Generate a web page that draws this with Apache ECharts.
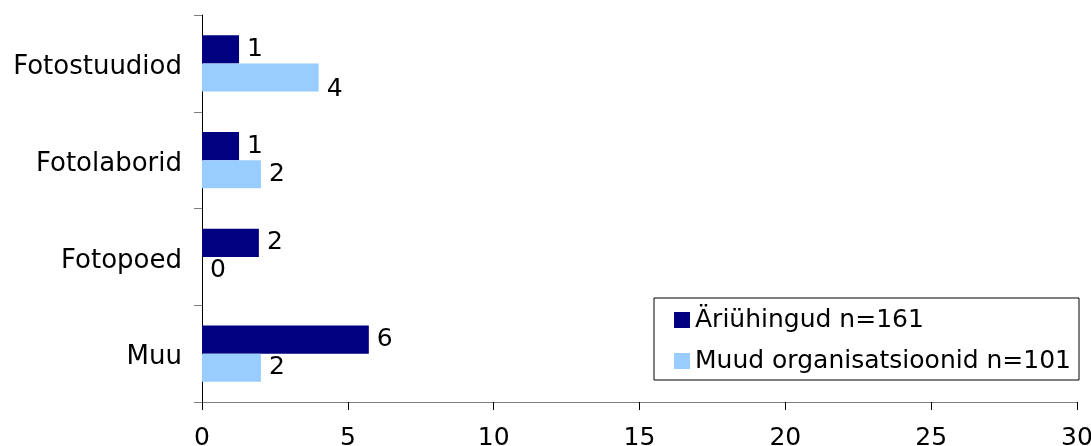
<!DOCTYPE html>
<html>
<head>
<meta charset="utf-8">
<script src="https://cdn.jsdelivr.net/npm/echarts@6/dist/echarts.min.js"></script>
<style>
  html, body { margin: 0; padding: 0; background: #fff; }
  #chart { width: 1091px; height: 446px; }
</style>
</head>
<body>
<div id="chart"></div>
<script>
// kategooriad ülevalt alla
var categories = ['Fotostuudiod', 'Fotolaborid', 'Fotopoed', 'Muu'];
var seriesNames = ['Äriühingud n=161', 'Muud organisatsioonid n=101'];
var ariyhingud = [1.27, 1.27, 1.95, 5.72];
var muud = [4.0, 2.02, 0, 2.02];
var xTicks = [0, 5, 10, 15, 20, 25, 30];

var font = 'DejaVu Sans, Verdana, sans-serif';

var chart = echarts.init(document.getElementById('chart'));

function barLabel() {
    return {
        show: true,
        position: 'right',
        distance: 8,
        color: '#000',
        fontSize: 25,
        fontFamily: font,
        padding: [4, 0, 0, 0],
        formatter: function (p) { return Math.round(p.value); }
    };
}

var option = {
    animation: false,
    backgroundColor: '#fff',
    grid: { left: 202, right: 14, top: 15, bottom: 44, outerBoundsMode: 'none', containLabel: false },
    legend: {
        orient: 'vertical',
        left: 654,
        top: 298,
        padding: [7, 8, 4, 20],
        itemGap: 11,
        itemWidth: 16,
        itemHeight: 16,
        icon: 'rect',
        borderColor: '#000',
        borderWidth: 1,
        textStyle: { fontSize: 25, fontFamily: font, color: '#000', lineHeight: 30 },
        data: seriesNames
    },
    xAxis: {
        type: 'value',
        min: xTicks[0],
        max: xTicks[xTicks.length - 1],
        interval: xTicks[1] - xTicks[0],
        splitLine: { show: false },
        axisLine: { show: true, lineStyle: { color: '#808080', width: 1 } },
        axisTick: { show: true, length: 8, lineStyle: { color: '#000' } },
        axisLabel: { fontSize: 25, fontFamily: font, color: '#000', margin: 24 }
    },
    yAxis: {
        type: 'category',
        inverse: true,
        data: categories,
        axisLine: { show: true, lineStyle: { color: '#000', width: 1 } },
        axisTick: { show: true, length: 8, lineStyle: { color: '#808080' } },
        axisLabel: {
            margin: 20,
            formatter: function (v) { return '{c|' + v + '}'; },
            rich: {
                c: { fontSize: 26, fontFamily: font, color: '#000', padding: [8, 0, 0, 0] }
            }
        }
    },
    series: [
        {
            name: seriesNames[0],
            type: 'bar',
            data: ariyhingud,
            itemStyle: { color: '#000080' },
            barGap: '0%',
            barCategoryGap: '42%',
            label: barLabel()
        },
        {
            name: seriesNames[1],
            type: 'bar',
            data: muud.map(function (v, i) {
                // esimese silt on pildil veidi allpool
                return i === 0 ? { value: v, label: { offset: [0, 12] } } : v;
            }),
            itemStyle: { color: '#99CCFF' },
            barGap: '0%',
            barCategoryGap: '42%',
            label: barLabel()
        }
    ]
};

chart.setOption(option);
</script>
</body>
</html>
